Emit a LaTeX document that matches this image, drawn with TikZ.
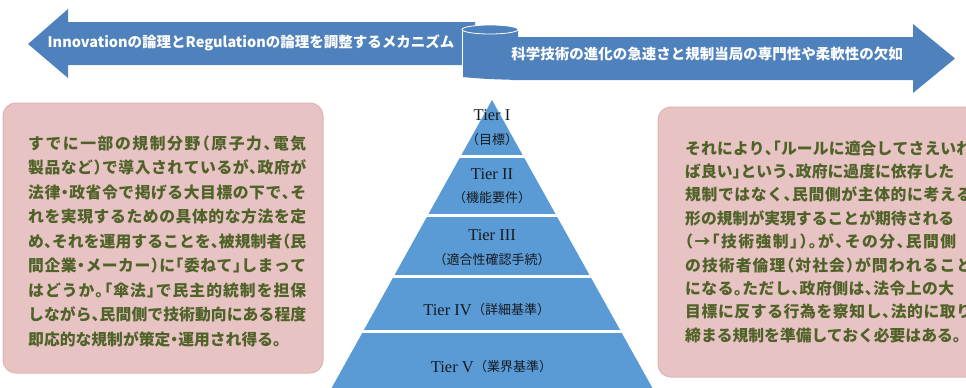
\documentclass[tikz,border=0pt]{standalone}
\usepackage{fontspec}
\newfontfamily\jp{Noto Sans CJK JP}
\newfontfamily\jph{Noto Sans CJK JP}[RawFeature=+halt]
\newfontfamily\lser{Liberation Serif}
\def\sprA#1{#1\sprB}
\def\sprB#1{\ifx\relax#1\else\hskip 0pt plus 1fil #1\expandafter\sprB\fi}
\definecolor{arrowblue}{HTML}{4F81BD}
\definecolor{pyrblue}{HTML}{5B9BD5}
\definecolor{boxpink}{HTML}{E8C3C3}
\definecolor{boxedge}{HTML}{E2B2B2}
\definecolor{txtgreen}{HTML}{4F6228}
\definecolor{pyrtext}{HTML}{141A20}
\tikzset{
  arrowshape/.style={fill=arrowblue},
  pinkbox/.style={fill=boxpink, draw=boxedge, line width=1pt, rounded corners=13pt},
  boxtext/.style={text=txtgreen, font=\jph\bfseries\fontsize{15.8}{18}\selectfont, anchor=base west, inner sep=0pt},
  arrowtext/.style={text=white, font=\jp\bfseries\fontsize{14.5}{17}\selectfont, inner sep=0pt},
  tiertext/.style={text=pyrtext, font=\lser\fontsize{16.5}{18}\selectfont, inner sep=0pt},
  tierjp/.style={text=pyrtext, font=\jp\fontsize{13}{15}\selectfont, inner sep=0pt},
}
\begin{document}
\begin{tikzpicture}[x=1pt, y=-1pt]
\useasboundingbox (0,0) rectangle (966,388);
\clip (0,0) rectangle (966,388);

% left arrow
\fill[arrowshape] (28,44) -- (68,9) -- (68,22) -- (475,22) -- (475,65) -- (68,65) -- (68,78) -- cycle;
% right arrow
\fill[arrowshape] (512,37) -- (913,37) -- (913,24) -- (955,58.5) -- (913,93) -- (913,80) -- (512,80) -- cycle;
% ribbon fold
\fill[arrowshape] (462,30) -- (462,77) .. controls (485,79) .. (518,80) -- (518,30) -- cycle;
\draw[white, line width=0.9pt] (462,30) -- (462,77);
\filldraw[fill=arrowblue, draw=white, line width=0.8pt] (490,29.5) ellipse (28 and 4.5);

\node[arrowtext] (ltext) at (251,43) {Innovationの論理とRegulationの論理を調整するメカニズム};
\node[arrowtext] (rtext) at (707,54) {科学技術の進化の急速さと規制当局の専門性や柔軟性の欠如};

% pink boxes
\draw[pinkbox] (3,103) rectangle (323,373);
\draw[pinkbox] (658,107) rectangle (1000,377);

\foreach \w/\t [count=\i] in {
  278/すでに一部の規制分野（原子力、電気,
  278/製品など）で導入されているが、政府が,
  278/法律・政省令で掲げる大目標の下で、そ,
  278/れを実現するための具体的な方法を定,
  278/め、それを運用することを、被規制者（民,
  278/間企業・メーカー）に「委ねて」しまって,
  278/はどうか。「傘法」で民主的統制を担保,
  278/しながら、民間側で技術動向にある程度,
  0/即応的な規制が策定・運用され得る。}
  \node[boxtext] (L\i) at (28,{149+24.5*(\i-1)})
    {\ifnum\w>0 \makebox[\w pt][s]{\expandafter\sprA\t\relax}\else\t\fi};

\foreach \w/\t [count=\i] in {
  287/それにより、「ルールに適合してさえいれ,
  269/ば良い」という、政府に過度に依存した,
  287/規制ではなく、民間側が主体的に考える,
  269/形の規制が実現することが期待される,
  271/（→「技術強制」）。が、その分、民間側,
  287/の技術者倫理（対社会）が問われること,
  269/になる。ただし、政府側は、法令上の大,
  287/目標に反する行為を察知し、法的に取り,
  0/締まる規制を準備しておく必要はある。}
  \node[boxtext] (R\i) at (685,{154+23.4*(\i-1)})
    {\ifnum\w>0 \makebox[\w pt][s]{\expandafter\sprA\t\relax}\else\t\fi};

% pyramid
\fill[pyrblue] (492,100) -- (326,398) -- (658,398) -- cycle;
\begin{scope}
  \clip (492,100) -- (326,398) -- (658,398) -- cycle;
  \foreach \yy in {156.5,215.5,276.5,331.5}
    \draw[white, line width=2.6pt] (300,\yy) -- (700,\yy);
\end{scope}

\node[tiertext] (t1) at (492,115) {Tier I};
\node[tierjp] (j1) at (492,140) {（目標）};
\node[tiertext] (t2) at (492,174) {Tier II};
\node[tierjp] (j2) at (492,198) {（機能要件）};
\node[tiertext] (t3) at (492,235) {Tier III};
\node[tierjp] (j3) at (492,260) {（適合性確認手続）};
\node[tiertext, anchor=east] (t4) at (472,310) {Tier IV};
\node[tierjp, anchor=west] (j4) at (472,310) {（詳細基準）};
\node[tiertext, anchor=east] (t5) at (474,367) {Tier V};
\node[tierjp, anchor=west] (j5) at (474,367) {（業界基準）};
\end{tikzpicture}
\end{document}
